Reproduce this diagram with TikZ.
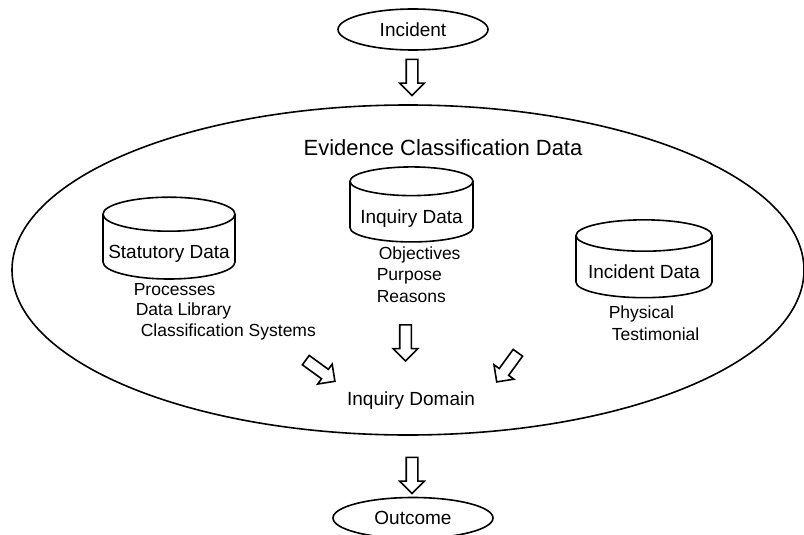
\documentclass[tikz,border=0pt]{standalone}
\usepackage{fontspec}
\setmainfont{Liberation Sans}
\usetikzlibrary{shapes.geometric}
\usetikzlibrary{shapes.arrows}

\begin{document}
\begin{tikzpicture}[x=1pt,y=-1pt, line width=1.6pt,
  oval/.style={draw, ellipse, minimum width=150, minimum height=41, inner sep=0pt, font=\fontsize{19}{23}\selectfont},
  dbcyl/.style={draw, cylinder, shape border rotate=90, aspect=0.28, minimum width=123, minimum height=74, inner sep=0pt, text height=26pt, text depth=4pt, font=\fontsize{19}{23}\selectfont},
  note/.style={anchor=west, inner sep=0pt, font=\fontsize{17.5}{21}\selectfont},
  blockarrow/.style={draw, single arrow, inner xsep=0pt, inner ysep=5pt, minimum width=0pt, minimum height=36, single arrow head extend=6.5pt}]
  \useasboundingbox (0,0) rectangle (804,535);
  % the big ellipse and its title
  \node[draw, ellipse, minimum width=792, minimum height=330] (ecd) at (408,270) {};
  \node[font=\fontsize{22}{26}\selectfont] (ecdtitle) at (443,148) {Evidence Classification Data};
  % start and end
  \node[oval] (incident) at (413,29.5) {Incident};
  \node[oval, minimum width=160] (outcome) at (413,518) {Outcome};
  % the three data stores
  \node[dbcyl, minimum width=132, minimum height=71] (statutory) at (169,247) {Statutory Data};
  \node[dbcyl, minimum height=75] (inquiry) at (411.5,212) {Inquiry Data};
  \node[dbcyl, minimum width=136, minimum height=70] (incdata) at (644,267) {Incident Data};
  % what each store holds
  \node[note] (proc) at (133,290) {Processes};
  \node[note] (lib) at (135,311) {Data Library};
  \node[note] (clsys) at (140,332) {Classification Systems};
  \node[note] (obj) at (378,255) {Objectives};
  \node[note] (purp) at (376,276) {Purpose};
  \node[note] (reas) at (376,297) {Reasons};
  \node[note] (phys) at (608,314) {Physical};
  \node[note] (test) at (611,334) {Testimonial};
  % where they meet
  \node[font=\fontsize{19}{23}\selectfont] (domain) at (411,401) {Inquiry Domain};
  % block arrows
  \node[blockarrow, rotate=-90] (a1) at (412,74.5) {};
  \node[blockarrow, rotate=-90] (a2) at (405.5,340) {};
  \node[blockarrow, rotate=-36] (a3) at (318,369) {};
  \node[blockarrow, rotate=-126] (a4) at (509,365) {};
  \node[blockarrow, rotate=-90] (a5) at (412,472.5) {};
\end{tikzpicture}
\end{document}
